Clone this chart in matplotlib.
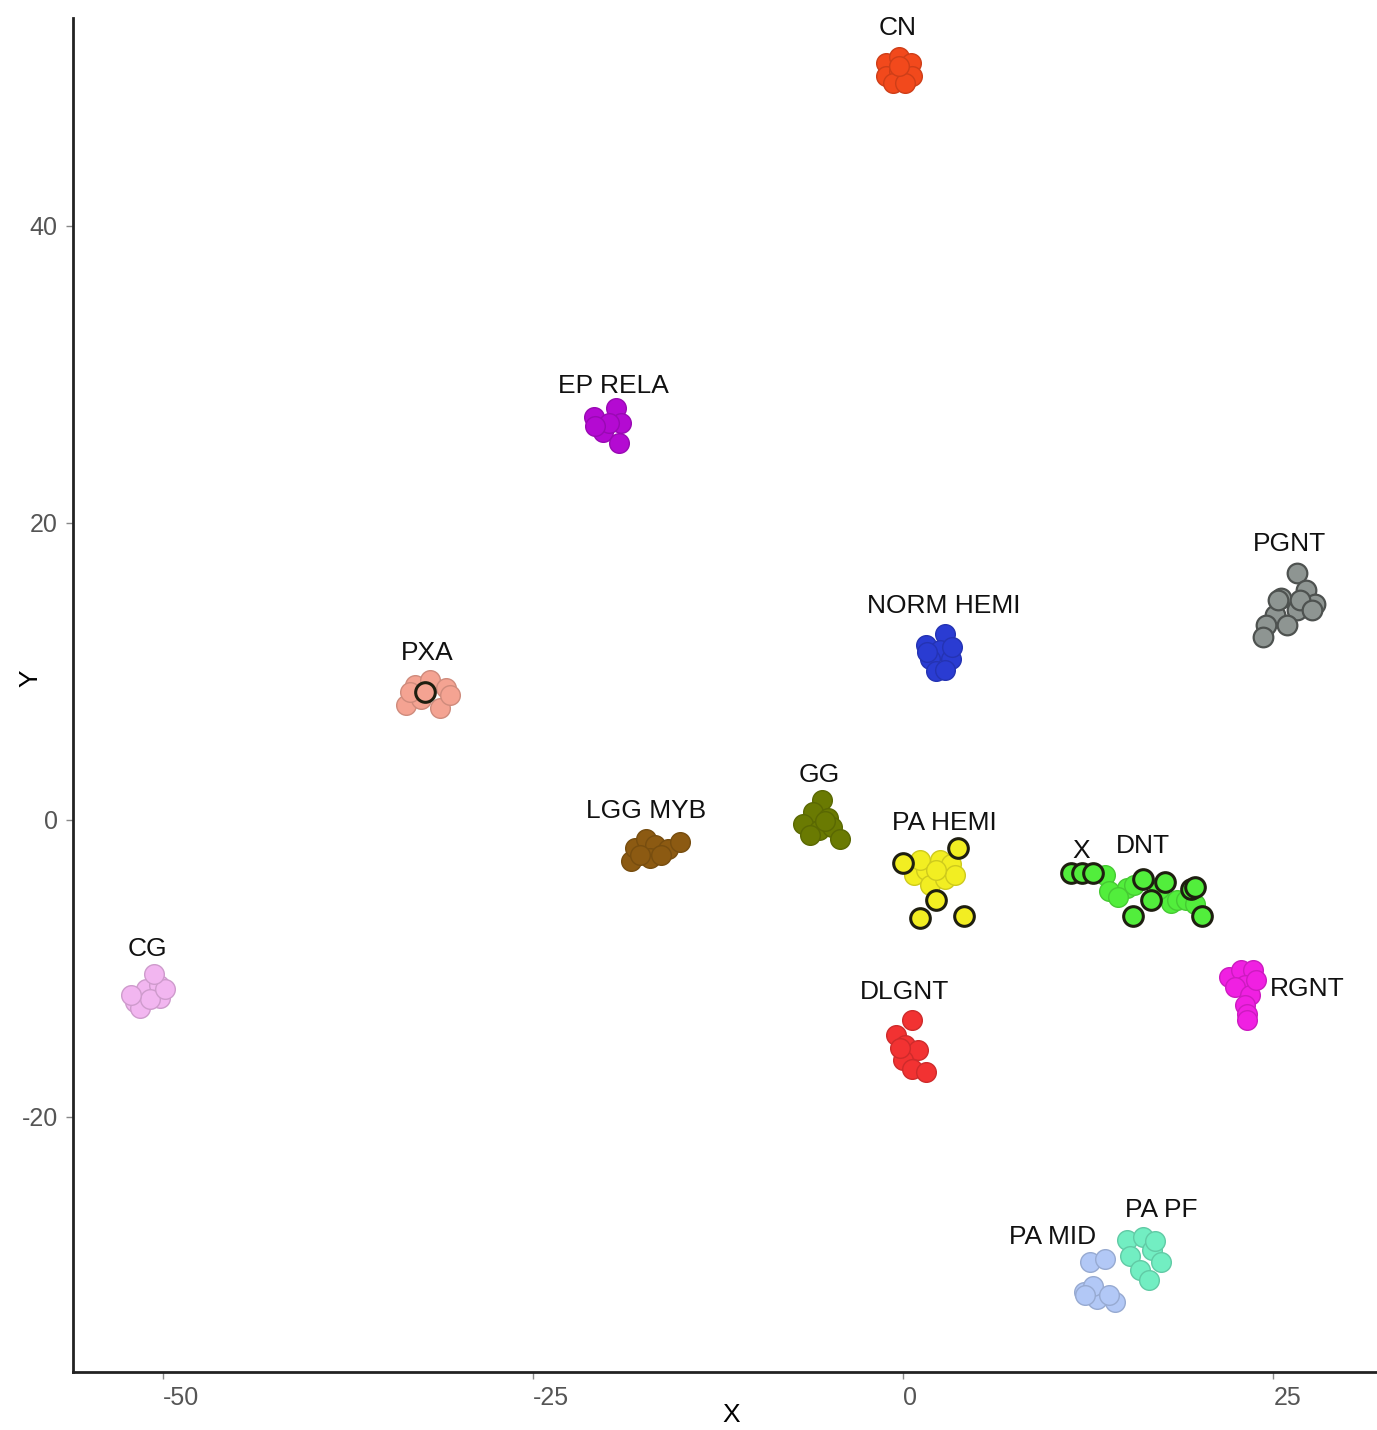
import matplotlib
matplotlib.use("Agg")
import matplotlib.pyplot as plt
import numpy as np

plt.rcParams['font.family'] = ['Liberation Sans', 'DejaVu Sans']

# ---------------- data (t-SNE style coordinates) ----------------
cn_x = [-1.2, -0.3, 0.5, -1.2, -0.3, 0.6, -0.7, 0.1, -0.3]
cn_y = [51.0, 51.4, 51.0, 50.1, 50.4, 50.1, 49.6, 49.6, 50.8]

eprela_x = [-20.9, -19.4, -19.1, -20.3, -19.2, -19.9, -20.8]
eprela_y = [27.1, 27.7, 26.7, 26.1, 25.4, 26.7, 26.5]

normhemi_x = [1.5, 2.8, 2.5, 1.8, 3.2, 2.2, 2.8, 1.6, 3.3]
normhemi_y = [11.8, 12.5, 11.4, 10.8, 10.8, 10.0, 10.1, 11.3, 11.6]

pgnt_x = [26.6, 27.2, 25.5, 27.8, 26.6, 25.1, 24.5, 25.9, 24.3, 25.3, 26.8, 27.6]
pgnt_y = [16.6, 15.5, 14.9, 14.5, 14.1, 13.8, 13.1, 13.1, 12.3, 14.8, 14.8, 14.1]

pxa_x = [-33.6, -33.0, -32.0, -30.9, -31.3, -32.6, -33.3, -30.6]
pxa_y = [7.7, 9.1, 9.4, 8.9, 7.5, 8.1, 8.6, 8.4]
pxa_out_x = [-32.3]
pxa_out_y = [8.6]

lggmyb_x = [-18.4, -18.1, -17.4, -16.8, -15.9, -15.1, -17.1, -17.8, -16.4]
lggmyb_y = [-2.8, -1.9, -1.3, -1.7, -2.0, -1.5, -2.6, -2.4, -2.4]

gg_x = [-5.5, -6.1, -5.1, -6.8, -5.7, -4.8, -6.3, -4.3, -5.3]
gg_y = [1.3, 0.5, 0.1, -0.3, -0.7, -0.5, -1.0, -1.3, -0.1]

pahemi_x = [0.7, 1.5, 2.5, 3.2, 1.8, 2.8, 1.1, 3.5, 2.2]
pahemi_y = [-3.7, -3.4, -2.7, -3.0, -4.4, -4.0, -2.7, -3.7, -3.4]
pahemi_out_x = [0.0, 3.7, 2.2, 1.1, 4.1]
pahemi_out_y = [-2.9, -1.9, -5.4, -6.6, -6.5]

dnt_x = [13.6, 13.9, 15.1, 14.5, 18.1, 18.5, 17.3, 19.1, 15.6, 19.7]
dnt_y = [-3.7, -4.8, -4.6, -5.2, -5.6, -5.4, -4.7, -5.4, -4.4, -5.7]
dnt_out_x = [11.3, 12.1, 12.8, 16.2, 17.7, 19.4, 19.7, 16.7, 15.5, 20.2]
dnt_out_y = [-3.6, -3.6, -3.6, -4.0, -4.2, -4.7, -4.5, -5.4, -6.5, -6.5]

rgnt_x = [22.0, 22.8, 23.6, 23.1, 22.4, 23.4, 23.1, 23.2, 23.2, 23.8]
rgnt_y = [-10.6, -10.1, -10.1, -11.1, -11.3, -11.8, -12.5, -13.1, -13.5, -10.8]

cg_x = [-51.9, -51.2, -50.3, -50.2, -51.6, -50.9, -52.2, -49.9, -50.6]
cg_y = [-12.3, -11.4, -11.1, -12.0, -12.7, -12.1, -11.8, -11.4, -10.4]

dlgnt_x = [0.6, -0.5, 0.1, 1.0, 0.0, 0.6, 1.5, -0.2]
dlgnt_y = [-13.5, -14.5, -15.2, -15.5, -16.2, -16.8, -17.0, -15.4]

pamid_x = [12.6, 13.6, 12.2, 13.1, 14.3, 12.8, 12.3, 13.9]
pamid_y = [-29.8, -29.6, -31.8, -32.3, -32.5, -31.4, -32.0, -32.0]

papf_x = [15.1, 16.2, 16.8, 15.3, 16.0, 17.4, 16.6, 17.0]
papf_y = [-28.3, -28.1, -29.0, -29.4, -30.3, -29.8, -31.0, -28.4]

label_text = ["CN", "EP RELA", "PGNT", "NORM HEMI", "PXA", "GG", "LGG MYB",
              "PA HEMI", "X", "DNT", "CG", "DLGNT", "RGNT", "PA PF", "PA MID"]
label_x = [-0.4, -19.6, 26.1, 2.7, -32.2, -5.7, -17.4, 2.8, 12.0, 16.2,
           -51.1, 0.1, 27.3, 17.4, 10.1]
label_y = [53.3, 29.2, 18.6, 14.4, 11.2, 3.0, 0.6, -0.2, -2.1, -1.8,
           -8.7, -11.6, -11.4, -26.3, -28.1]

x_ticks = [-50, -25, 0, 25]
y_ticks = [-20, 0, 20, 40]

# ---------------- plotting ----------------
fig = plt.figure(figsize=(13.77, 14.30), dpi=100)
ax = fig.add_axes([73 / 1377, 1 - 1372 / 1430, 1 - 73 / 1377, (1372 - 18) / 1430])

S = 200


def darker(c, f=0.72):
    r, g, b = matplotlib.colors.to_rgb(c)
    return (r * f, g * f, b * f)


groups = [
    (cn_x, cn_y, "#F2491C"),
    (eprela_x, eprela_y, "#B40AD2"),
    (normhemi_x, normhemi_y, "#2A3CD2"),
    (pgnt_x, pgnt_y, "#8E9592"),
    (pxa_x, pxa_y, "#F4A392"),
    (lggmyb_x, lggmyb_y, "#8C5A12"),
    (gg_x, gg_y, "#6A7A02"),
    (pahemi_x, pahemi_y, "#F2EE22"),
    (dnt_x, dnt_y, "#52EE3C"),
    (rgnt_x, rgnt_y, "#F020E2"),
    (cg_x, cg_y, "#F2B6F0"),
    (dlgnt_x, dlgnt_y, "#F23232"),
    (pamid_x, pamid_y, "#B2C8F6"),
    (papf_x, papf_y, "#72EEC2"),
]
for gx, gy, col in groups:
    ec = darker(col, 0.55) if col == "#8E9592" else darker(col, 0.85)
    lw = 1.6 if col == "#8E9592" else 1.0
    ax.scatter(gx, gy, s=S, c=col, edgecolors=[ec], linewidths=lw, zorder=2)

outlined = [
    (pxa_out_x, pxa_out_y, "#F4A392"),
    (pahemi_out_x, pahemi_out_y, "#F2EE22"),
    (dnt_out_x, dnt_out_y, "#52EE3C"),
]
for gx, gy, col in outlined:
    ax.scatter(gx, gy, s=S, c=col, edgecolors="#1E1E10", linewidths=2.2, zorder=3)

for t, lx, ly in zip(label_text, label_x, label_y):
    ax.text(lx, ly, t, ha="center", va="center", fontsize=19, color="#111111", zorder=4)

ax.set_xlim(-56.1, 32.0)
ax.set_ylim(-37.2, 54.0)
ax.set_xticks(x_ticks)
ax.set_yticks(y_ticks)
ax.set_xticklabels([str(v) for v in x_ticks], ha="left")
ax.set_yticklabels([str(v) for v in y_ticks])
ax.tick_params(axis="both", labelsize=18, labelcolor="#555555", color="#888888",
               length=5, width=1)
ax.tick_params(axis="x", pad=5)
ax.tick_params(axis="y", pad=6)

for side in ["top", "right"]:
    ax.spines[side].set_visible(False)
for side in ["left", "bottom"]:
    ax.spines[side].set_linewidth(2)
    ax.spines[side].set_color("#222222")

fig.text(731 / 1377, 1 - 1415 / 1430, "X", ha="center", va="center", fontsize=19)
fig.text(30 / 1377, 1 - 678 / 1430, "Y", ha="center", va="center", fontsize=19,
         rotation=90)

fig.savefig("out.png", dpi=100, facecolor="white")
